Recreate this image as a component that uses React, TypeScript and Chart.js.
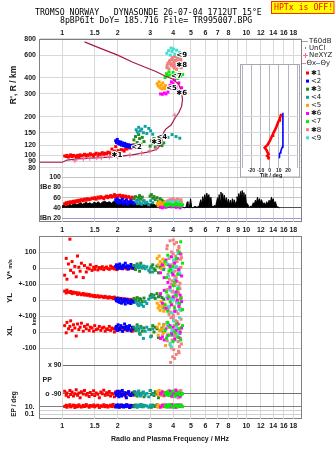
import { useEffect, useRef } from 'react';
import { Chart, registerables } from 'chart.js';

Chart.register(...registerables);

const PAGE_W = 335;
const PAGE_H = 451;

/* ---------- header ---------- */
const TITLE_1 = 'TROMSO NORWAY   DYNASONDE 26-07-04 1712UT 15°E';
const TITLE_2 = '8pBP6It DoY= 185.716 File= TR995007.BPG';
const TX_STATUS = 'HPTx is OFF!';

/* ---------- axis ticks ---------- */
const FREQ_GRID = [1, 1.5, 2, 3, 4, 5, 6, 7, 8, 9, 10, 12, 14, 16, 18];
const FREQ_LABELS = [1, 1.5, 2, 3, 4, 5, 6, 7, 8, 10, 12, 14, 16, 18];
const FREQ_LABELS_AMP = [1, 1.5, 2, 3, 4, 5, 6, 7, 8, 9, 10, 12, 14, 16, 18];
const HEIGHT_TICKS = [80, 90, 100, 120, 150, 200, 300, 400, 600, 800];
const AMP_TICKS = [100, 80, 60, 40, 20];
const AMP_LABELS = ['100', 'dBe 80', '60', '40', 'dBn 20'];
const DRIFT_TICKS = [100, 0, -100, -200, -300, -400, -500];
const DRIFT_LABELS = ['100', '0', '+-100', '0', '+-100', '0', '-100'];
const PP_TICKS = [90, -90];
const PP_LABELS = ['x 90', 'o -90'];
const EP_TICKS = [10, 1, 0.1];
const EP_LABELS = ['10.', '', '0.1'];
const TILT_TICKS = [-30, -20, -10, 0, 10, 20, 30];
const TILT_LABELS = ['', '-20', '-10', '0', '10', '20', ''];
const TILT_HEIGHT_TICKS = [100, 120, 150, 200];

/* ---------- legend / cluster tags ---------- */
const CLUSTER_TAGS = ['✱1', '<2', '✱3', '<4', '<5', '✱6', '<7', '✱8', '<9'];
const TAG_F = [1.9, 2.43, 3.12, 3.33, 3.76, 4.27, 4.0, 4.27, 4.27];
const TAG_H = [101, 116, 126, 139, 330, 306, 410, 500, 595];

/* ---------- real-height profile (MHz, km) ---------- */
const PROFILE: [number, number][] = [
  [0.75, 88.5], [1.0, 88.5], [1.06, 92], [1.2, 94], [1.6, 96], [2.0, 98], [2.4, 101],
  [2.9, 106], [3.25, 111], [3.42, 120], [3.5, 135], [3.55, 150], [3.65, 160], [3.9, 172],
  [4.1, 195], [4.3, 215], [4.45, 240], [4.5, 270], [4.45, 310], [4.3, 355], [4.0, 390],
  [3.6, 415], [3.2, 450], [2.8, 485], [2.4, 530], [2.0, 600], [1.6, 680], [1.32, 760],
];

/* ---------- NeXYZ points (MHz, km) ---------- */
const NEXYZ: [number, number][] = [
  [1.17, 91], [1.3, 94], [1.41, 95], [1.54, 96], [1.63, 96], [1.8, 97], [2.0, 98],
  [2.33, 100.5], [2.7, 104], [2.99, 108.5], [3.24, 114], [4.09, 205],
];

/* ---------- noise amplitude envelope (MHz, dB) ---------- */
const NOISE: [number, number][] = [
  [0.99, 40], [1.0, 44], [1.02, 46], [1.04, 43], [1.06, 47], [1.08, 45], [1.1, 48], [1.12, 44],
  [1.14, 47], [1.17, 49], [1.2, 46], [1.23, 48], [1.26, 50], [1.29, 47], [1.32, 49], [1.35, 51],
  [1.38, 48], [1.41, 50], [1.45, 47], [1.49, 51], [1.53, 49], [1.57, 52], [1.61, 48], [1.65, 51],
  [1.7, 53], [1.75, 50], [1.8, 52], [1.85, 49], [1.9, 53], [1.95, 51], [2.0, 48], [2.06, 52],
  [2.12, 49], [2.18, 51], [2.25, 47], [2.32, 50], [2.4, 48], [2.48, 46], [2.56, 49], [2.64, 45],
  [2.72, 48], [2.8, 46], [2.9, 50], [3.0, 47], [3.1, 49], [3.2, 45], [3.3, 47], [3.4, 44],
  [3.5, 46], [3.6, 43], [3.7, 45], [3.8, 42], [3.9, 44], [4.0, 42], [4.1, 45], [4.2, 42],
  [4.3, 44], [4.4, 41], [4.5, 42], [4.6, 40], [4.7, 41], [4.78, 52], [4.82, 41], [4.9, 40],
  [4.98, 58], [5.04, 42], [5.12, 40], [5.25, 43], [5.4, 41], [5.55, 44], [5.65, 56], [5.72, 48],
  [5.8, 62], [5.88, 52], [5.95, 66], [6.02, 55], [6.1, 69], [6.18, 58], [6.26, 66], [6.34, 50],
  [6.42, 61], [6.5, 44], [6.6, 41], [6.7, 45], [6.8, 42], [6.9, 52], [6.98, 60], [7.05, 50],
  [7.12, 66], [7.2, 55], [7.28, 71], [7.36, 58], [7.44, 68], [7.52, 54], [7.6, 65], [7.7, 52],
  [7.8, 60], [7.9, 48], [8.0, 57], [8.1, 46], [8.2, 55], [8.3, 44], [8.4, 58], [8.5, 47],
  [8.6, 56], [8.7, 45], [8.8, 52], [8.9, 62], [9.0, 55], [9.1, 68], [9.2, 58], [9.3, 72],
  [9.4, 61], [9.5, 74], [9.6, 63], [9.7, 70], [9.8, 56], [9.9, 66], [10.0, 50], [10.15, 48],
  [10.3, 43], [10.45, 41], [10.6, 44], [10.75, 42], [10.9, 50], [11.05, 46], [11.2, 55], [11.35, 49],
  [11.5, 61], [11.65, 52], [11.8, 58], [11.95, 50], [12.1, 56], [12.3, 47], [12.5, 50], [12.7, 45],
  [12.9, 52], [13.1, 47], [13.3, 55], [13.5, 50], [13.7, 61], [13.85, 53], [14.0, 58], [14.2, 49],
  [14.4, 52], [14.6, 44], [14.8, 42], [15.0, 41], [15.15, 40],
];

/* ---------- wave-vector tilt (deg, km) ---------- */
const THETA_X: [number, number][] = [
  [-1.9, 93], [-1, 96], [-2.8, 99], [-1.2, 102], [-2.5, 106], [-3.5, 110], [-5.5, 115],
  [-2.6, 120], [-1.2, 125], [0, 129], [0.8, 133], [1.7, 137], [2.6, 142], [3.6, 147],
  [4.8, 153], [6.1, 159], [7.2, 166], [8.3, 174], [9.2, 181], [10.2, 187], [11.1, 195],
  [12, 202], [12.7, 210],
];
const THETA_Y: [number, number][] = [
  [10.9, 96], [10.2, 99], [11.2, 102], [11.6, 105], [12.2, 108], [12.7, 111], [13.8, 116],
  [14.2, 122], [14.5, 129], [14.5, 150], [14.5, 180], [14.5, 214],
];

/* ---------- echo clusters: frequency (MHz), virtual range (km), amplitude (dB),
   V* (m/s), YL (km), XL (km), PP (deg), EP (deg) ---------- */
const F1 = [1.03, 1.05, 1.06, 1.08, 1.1, 1.11, 1.13, 1.15, 1.17, 1.19, 1.21, 1.23, 1.25, 1.27, 1.3, 1.32, 1.35, 1.37, 1.4, 1.42, 1.45, 1.48, 1.5, 1.53, 1.56, 1.59, 1.62, 1.65, 1.68, 1.71, 1.74, 1.77, 1.8, 1.83, 1.86, 1.89, 1.92, 1.95, 1.98, 2.01, 2.05, 2.09, 2.13, 2.17, 2.21, 2.25, 2.3, 2.35, 2.4, 2.45];
const H1 = [99, 98, 100, 97, 99, 101, 98, 100, 99, 97, 100, 98, 101, 99, 100, 102, 99, 101, 100, 103, 101, 99, 102, 104, 100, 103, 101, 105, 102, 104, 103, 106, 105, 103, 112, 104, 108, 117, 105, 109, 107, 111, 110, 108, 113, 112, 116, 114, 118, 121];
const A1 = [48, 50, 47, 51, 49, 52, 50, 53, 51, 54, 52, 55, 53, 56, 54, 57, 55, 58, 56, 57, 59, 58, 60, 57, 61, 59, 62, 60, 58, 61, 63, 60, 62, 64, 61, 63, 66, 62, 64, 63, 65, 62, 64, 61, 63, 60, 62, 59, 61, 58];
const V1 = [-45, 60, -70, 25, 180, -15, 40, -30, 10, -55, 75, 5, -20, 30, -60, 15, -25, 0, -5, 20, -15, 5, -8, 10, -12, 3, -5, 8, -10, 0, 6, -4, -8, 12, -2, 5, -6, 2, -10, 4, -3, 8, -5, 0, 6, -7, 3, -2, 5, -4];
const YL1 = [55, 44, 62, 50, 47, 53, 40, 49, 43, 46, 35, 44, 38, 33, 41, 31, 37, 29, 35, 25, 30, 22, 28, 20, 27, 18, 24, 21, 15, 23, 17, 12, 20, 14, 16, 9, 18, 11, 7, 13, 5, 10, 2, 8, -1, 6, -4, 4, -6, 0];
const XL1 = [40, -5, 60, 20, 35, 70, 10, 45, 25, -25, 50, 15, 30, 55, 5, 35, 20, 45, 10, 30, 25, 5, 40, 15, 20, 35, 10, 25, 30, 5, 20, 15, 35, 10, 25, 20, 0, 30, 15, 10, 25, 20, 5, 15, 30, 10, 20, 15, 5, 25];
const PP1 = [-75, -100, -85, -110, -70, -95, -80, -105, -90, -65, -100, -85, -115, -78, -92, -70, -98, -88, -108, -82, -95, -72, -102, -86, -94, -115, -80, -90, -68, -100, -84, -96, -76, -104, -88, -92, -110, -80, -98, -86, -74, -100, -90, -84, -106, -92, -78, -96, -88, -100];
const EP1 = [12, 25, 7, 18, 35, 9, 15, 28, 6, 20, 10, 32, 14, 8, 24, 11, 38, 16, 7, 22, 13, 30, 9, 17, 26, 6, 19, 12, 34, 10, 21, 8, 15, 27, 11, 40, 14, 9, 23, 16, 7, 29, 12, 18, 10, 33, 15, 8, 20, 13];

const F2 = [1.95, 1.97, 1.99, 2.01, 2.03, 2.05, 2.08, 2.1, 2.12, 2.15, 2.18, 2.2, 2.23, 2.26, 2.29, 2.32, 2.36, 2.4, 2.44, 2.48];
const H2 = [130, 126, 133, 124, 128, 122, 127, 120, 125, 119, 124, 118, 122, 117, 121, 116, 120, 118, 115, 119];
const A2 = [56, 52, 58, 50, 55, 49, 54, 51, 57, 48, 53, 50, 55, 47, 52, 49, 54, 51, 48, 50];
const V2 = [10, 20, -5, 15, 5, 25, 0, 12, -3, 18, 8, 30, 2, 14, -6, 10, 22, 4, -2, 12];
const YL2 = [5, -5, 10, -10, 0, -15, 8, -20, -2, -12, 4, -25, -8, 2, -18, -6, -22, -3, -14, -9];
const XL2 = [20, 35, 10, 45, 25, 15, 40, 30, 5, 28, 50, 18, 35, 12, 25, 40, 8, 30, 22, 15];
const PP2 = [-85, -100, -75, -95, -110, -80, -90, -105, -70, -92, -98, -84, -115, -88, -78, -96, -102, -86, -94, -80];
const EP2 = [9, 26, 14, 32, 7, 19, 12, 28, 16, 8, 22, 11, 35, 13, 18, 6, 24, 15, 10, 20];

const F3 = [2.45, 2.5, 2.55, 2.6, 2.63, 2.67, 2.72, 2.78, 3.0, 3.05, 3.1, 3.15, 3.2, 3.27, 3.33, 3.4, 3.48, 3.56];
const H3 = [132, 140, 126, 145, 135, 122, 138, 128, 118, 130, 124, 135, 116, 127, 121, 132, 119, 125];
const A3 = [58, 62, 55, 60, 64, 57, 61, 54, 63, 66, 59, 62, 56, 60, 53, 58, 55, 52];
const V3 = [15, -10, 25, 5, -20, 30, 0, 10, -25, 8, 20, -5, -15, 12, -30, 5, 18, -8];
const YL3 = [10, 0, 15, -5, 8, 5, -10, 12, 25, 35, 18, 30, 10, 40, 20, 28, 15, 5];
const XL3 = [30, 10, 45, 20, -10, 35, 5, 25, 15, -25, 40, 0, 30, 20, -35, 10, 25, 45];
const PP3 = [-80, -95, -105, -75, -90, -100, -85, -110, -70, -95, -88, -102, -78, -92, -115, -84, -98, -90];
const EP3 = [12, 30, 8, 20, 16, 38, 10, 24, 14, 7, 27, 18, 11, 33, 9, 21, 15, 13];

const F4 = [2.52, 2.56, 2.6, 2.65, 2.7, 2.76, 2.82, 2.88, 2.95, 3.02, 3.1, 3.55, 3.75, 3.95, 4.15, 4.35];
const H4 = [158, 152, 165, 155, 160, 150, 168, 148, 162, 155, 146, 142, 138, 145, 140, 136];
const A4 = [52, 48, 55, 50, 47, 53, 49, 51, 46, 54, 50, 48, 52, 47, 50, 46];
const V4 = [10, 18, 2, 15, 5, 12, -5, 8, -15, 0, -25, -10, 20, -30, 5, -40];
const YL4 = [-15, -25, -35, -20, -30, -40, -10, -22, 5, 15, 25, -50, -60, 10, -70, -20];
const XL4 = [20, 35, 10, -15, 25, -40, 5, 30, 15, -30, 20, 0, 40, -20, 10, -10];
const PP4 = [-85, -95, -75, -105, -90, -80, -100, -88, -110, -70, -95, -82, -98, -90, -104, -86];
const EP4 = [18, 8, 28, 12, 36, 10, 22, 15, 7, 26, 13, 31, 9, 19, 24, 11];

const F5 = [3.28, 3.32, 3.36, 3.4, 3.44, 3.48, 3.52, 3.56, 3.6, 3.64];
const H5 = [360, 345, 372, 335, 352, 328, 365, 340, 330, 348];
const A5 = [48, 44, 52, 46, 50, 43, 47, 45, 51, 44];
const V5 = [60, 20, 75, 40, -5, 30, 55, 10, 45, 25];
const YL5 = [-20, -50, -35, -65, -10, -45, -30, -70, -25, -55];
const XL5 = [30, -20, 50, 10, -40, 20, -10, 40, 0, -85];
const PP5 = [-80, -95, -70, -100, -88, -75, -92, -105, -85, -98];
const EP5 = [10, 28, 14, 7, 22, 16, 34, 9, 19, 12];

const F6 = [3.42, 3.5, 3.58, 3.66, 3.75, 3.85, 3.92, 4.0, 4.08, 4.15, 4.22, 4.3, 4.37, 4.45];
const H6 = [300, 298, 305, 300, 310, 350, 372, 360, 385, 340, 320, 365, 305, 335];
const A6 = [41, 40, 42, 41, 43, 44, 42, 45, 43, 41, 44, 42, 40, 43];
const V6 = [-30, 20, -60, 50, -90, 10, 70, -40, 30, -80, 60, -10, 90, -50];
const YL6 = [40, -20, 60, -50, 10, 80, -30, 20, -70, 50, 0, -40, 30, -10];
const XL6 = [-40, -30, -50, 20, -20, 40, -10, 30, -45, 10, 50, -35, 0, 25];
const PP6 = [-90, -80, -100, -85, -95, -75, -105, -88, -92, -70, -98, -84, -110, -90];
const EP6 = [8, 24, 12, 30, 16, 10, 38, 14, 20, 7, 26, 11, 18, 15];

const F7 = [3.62, 3.68, 3.74, 3.8, 3.86, 4.0, 4.08, 4.16, 4.24, 4.32, 4.4, 4.5];
const H7 = [402, 430, 415, 445, 420, 440, 405, 428, 395, 435, 412, 425];
const A7 = [46, 44, 48, 45, 47, 44, 46, 49, 45, 47, 44, 46];
const V7 = [40, -60, 80, -20, -10, 10, -90, 60, -40, 100, 164, 30];
const YL7 = [-30, 50, -70, 20, -10, 90, -50, 30, 70, -20, 10, -60];
const XL7 = [10, -40, 60, -20, 30, -60, 0, 50, -30, 20, -50, 40];
const PP7 = [-85, -95, -80, -100, -90, -75, -105, -88, -92, -82, -98, -90];
const EP7 = [14, 9, 27, 12, 33, 8, 19, 23, 11, 16, 29, 10];

const F8 = [3.7, 3.75, 3.8, 3.85, 3.9, 3.95, 4.0, 4.03, 4.06, 4.1, 4.13, 4.16, 4.2, 4.23, 4.26, 4.3, 4.33, 4.36, 4.39, 4.42, 3.88, 4.08, 4.18, 4.28, 3.72, 3.82, 3.92, 4.01, 4.11, 4.21, 4.31, 4.41, 4.44, 3.98];
const H8 = [480, 520, 470, 545, 500, 560, 490, 530, 475, 585, 510, 550, 495, 570, 485, 540, 505, 525, 560, 478, 515, 545, 465, 590, 500, 535, 555, 505, 495, 530, 515, 550, 485, 575];
const A8 = [50, 54, 47, 56, 52, 48, 58, 51, 46, 55, 49, 53, 47, 57, 50, 45, 54, 48, 52, 46, 55, 51, 49, 53, 52, 48, 55, 50, 47, 53, 49, 56, 51, 47];
const V8 = [120, -40, 60, 170, 10, -80, 90, 30, 150, -20, 75, -60, 40, 110, -10, 135, 0, -95, 55, 85, 20, -50, 160, -30, 140, -70, 100, 175, 45, -85, 125, 5, 65, -45];
const YL8 = [-60, 30, -90, 80, -20, 50, -100, 10, -40, 95, -70, 20, -5, 60, -85, 40, -30, 70, -55, 5, -75, 90, -15, 45, 65, -45, 100, -95, 35, -10, 85, -65, 15, 55];
const XL8 = [60, -20, 30, -80, 90, -50, 10, -110, 40, -30, 70, -140, -10, 20, -60, 50, -90, 0, -40, 80, -190, -165, 15, -120, -55, 40, -100, 85, -15, 65, -130, 25, -75, -155];
const PP8 = [-80, -95, -70, -100, -85, -110, -90, -75, -105, -88, -65, -98, -92, -78, -115, -84, -96, -72, -102, -86, -94, -82, -108, -90, -88, -100, -76, -94, -110, -82, -98, -70, -92, -104];
const EP8 = [12, 28, 8, 20, 15, 35, 10, 24, 7, 18, 30, 13, 22, 9, 26, 16, 11, 38, 14, 19, 8, 25, 12, 31, 8, 30, 14, 22, 6, 18, 36, 11, 26, 9];

const F9 = [3.7, 3.78, 3.86, 3.94, 4.02, 4.1, 4.18, 4.26, 4.34, 3.9];
const H9 = [620, 650, 600, 640, 670, 610, 655, 590, 630, 680];
const A9 = [50, 47, 52, 48, 51, 46, 49, 53, 47, 50];
const V9 = [30, -50, 70, -10, 50, -70, 10, 90, -30, 0];
const YL9 = [20, -40, 60, -80, 0, 40, -20, 80, -60, 10];
const XL9 = [-30, 50, -70, 10, 70, -50, 30, -10, 90, -90];
const PP9 = [-90, -80, -100, -85, -95, -75, -105, -88, -92, -98];
const EP9 = [15, 9, 28, 12, 22, 7, 33, 17, 11, 20];

const CLUSTERS = [
  { f: F1, h: H1, amp: A1, v: V1, yl: YL1, xl: XL1, pp: PP1, ep: EP1 },
  { f: F2, h: H2, amp: A2, v: V2, yl: YL2, xl: XL2, pp: PP2, ep: EP2 },
  { f: F3, h: H3, amp: A3, v: V3, yl: YL3, xl: XL3, pp: PP3, ep: EP3 },
  { f: F4, h: H4, amp: A4, v: V4, yl: YL4, xl: XL4, pp: PP4, ep: EP4 },
  { f: F5, h: H5, amp: A5, v: V5, yl: YL5, xl: XL5, pp: PP5, ep: EP5 },
  { f: F6, h: H6, amp: A6, v: V6, yl: YL6, xl: XL6, pp: PP6, ep: EP6 },
  { f: F7, h: H7, amp: A7, v: V7, yl: YL7, xl: XL7, pp: PP7, ep: EP7 },
  { f: F8, h: H8, amp: A8, v: V8, yl: YL8, xl: XL8, pp: PP8, ep: EP8 },
  { f: F9, h: H9, amp: A9, v: V9, yl: YL9, xl: XL9, pp: PP9, ep: EP9 },
];

/* ---------- styles ---------- */
const CLUSTER_COLORS = ['#ff0000', '#0000ff', '#228b22', '#10a0a0', '#ffa500', '#ff00ff', '#00ee00', '#f08080', '#40e0d0'];
const STACK_ORDER = [0, 1, 2, 3, 4, 7, 8, 5, 6];
const GRID = '#d8d8d8';
const FRAME = '#808080';
const TICK_COLOR = '#1a1a1a';
const PROFILE_COLOR = '#a8184c';
const NEXYZ_COLOR = '#e8709a';
const TICK_FONT = { family: '"Liberation Sans", Arial, sans-serif', size: 7, weight: 'bold' as const };
const SANS = '"Liberation Sans", Arial, sans-serif';

/* ---------- layout: plot boxes in page pixels ---------- */
type Box = { left: number; right: number; top: number; bottom: number };
const T_BOX: Box = { left: 40, right: 301, top: 39, bottom: 171 };
const A_BOX: Box = { left: 62, right: 301, top: 171, bottom: 222 };
const L_BOX: Box = { left: 40, right: 301, top: 237, bottom: 419 };
const P_BOX: Box = { left: 62.5, right: 301, top: 357, bottom: 400 };
const E_BOX: Box = { left: 40, right: 301, top: 400, bottom: 419 };
const I_BOX: Box = { left: 242, right: 298, top: 65, bottom: 168 };

/* axis calibrations: value at a given pixel edge */
const fAt = (px: number) => Math.pow(10, (px - 62.3) / 184);
const hAt = (py: number) => Math.pow(10, 2 + (155.4 - py) / 128.9);
const dbAt = (py: number) => 100 + (177.3 - py) / 0.509;
const driftAt = (py: number, zeroY: number) => (zeroY - py) / 0.16;
const ppAt = (py: number) => 90 - ((py - 365) * 180) / 28.7;
const epAt = (py: number) => Math.pow(10, 1 + (406.7 - py) / 3.65);
const tiltAt = (px: number) => (px - 269.7) / 0.915;

function padFor(box: Box, yWidth: number, xSide: 'top' | 'bottom', xHeight: number) {
  return {
    left: box.left - yWidth,
    right: PAGE_W - box.right,
    top: box.top - (xSide === 'top' ? xHeight : 0),
    bottom: PAGE_H - box.bottom - (xSide === 'bottom' ? xHeight : 0),
  };
}

function freqAxis(box: Box, side: 'top' | 'bottom', height: number, labels: number[] | null, pad: number, showGrid = true) {
  return {
    type: 'logarithmic',
    position: side,
    min: fAt(box.left),
    max: fAt(box.right),
    afterBuildTicks: (s: any) => { s.ticks = FREQ_GRID.map((v) => ({ value: v })); },
    afterFit: (s: any) => { s.height = height; },
    grid: { display: showGrid, color: GRID, drawTicks: false },
    border: { display: false },
    ticks: {
      display: !!labels,
      autoSkip: false,
      maxRotation: 0,
      minRotation: 0,
      padding: pad,
      color: TICK_COLOR,
      font: TICK_FONT,
      callback: (v: number) => (labels && labels.includes(v) ? String(v) : ''),
    },
  };
}

function valueAxis(o: {
  type: string; min: number; max: number; ticks: number[]; labels: string[] | null;
  width: number; pad: number; grid: any;
}) {
  return {
    type: o.type,
    position: 'left',
    min: o.min,
    max: o.max,
    afterBuildTicks: (s: any) => { s.ticks = o.ticks.map((v) => ({ value: v })); },
    afterFit: (s: any) => { s.width = o.width; },
    grid: { color: o.grid, drawTicks: false },
    border: { display: false },
    ticks: {
      display: !!o.labels,
      autoSkip: false,
      padding: o.pad,
      color: TICK_COLOR,
      font: TICK_FONT,
      callback: (v: number) => {
        const i = o.ticks.indexOf(v);
        return o.labels && i >= 0 ? o.labels[i] : '';
      },
    },
  };
}

const hiddenY = (min: number, max: number) => ({ type: 'linear', axis: 'y', position: 'left', display: false, min, max });

function pts(xs: number[], ys: number[]) {
  return xs.map((x, i) => ({ x, y: ys[i] }));
}
function pairPts(list: [number, number][]) {
  return list.map(([x, y]) => ({ x, y }));
}
function squares(data: { x: number; y: number }[], color: string, yAxisID = 'y') {
  return {
    data, yAxisID, showLine: false, pointStyle: 'rect', pointRadius: 2.1, pointBorderWidth: 0,
    pointBackgroundColor: color, backgroundColor: color, borderColor: color,
  };
}
// first entry is painted first, last entry ends up on top
function layered(sets: any[]) {
  return sets.map((d, i) => ({ ...d, order: sets.length - i }));
}

function build(canvas: HTMLCanvasElement, box: Box, scales: any, datasets: any[], yWidth: number,
  xSide: 'top' | 'bottom', xHeight: number, plugins: any[] = []) {
  return new Chart(canvas, {
    type: 'line',
    data: { datasets: layered(datasets) },
    options: {
      responsive: false,
      animation: false,
      events: [],
      layout: { padding: padFor(box, yWidth, xSide, xHeight), autoPadding: false },
      plugins: { legend: { display: false }, tooltip: { enabled: false } },
      scales,
    } as any,
    plugins,
  } as any);
}

function vText(ctx: CanvasRenderingContext2D, text: string, x: number, y: number, font: string) {
  ctx.save();
  ctx.translate(x, y);
  ctx.rotate(-Math.PI / 2);
  ctx.font = font;
  ctx.fillStyle = '#222';
  ctx.textAlign = 'center';
  ctx.textBaseline = 'middle';
  ctx.fillText(text, 0, 0);
  ctx.restore();
}

/* header, legend, panel frames, axis titles and cluster tags */
const decor = {
  id: 'decor',
  afterDraw(chart: any) {
    const ctx: CanvasRenderingContext2D = chart.ctx;
    const xs = chart.scales.x;
    const ys = chart.scales.y;
    ctx.save();

    ctx.strokeStyle = FRAME;
    ctx.lineWidth = 1;
    ctx.strokeRect(39.5, 39.5, 262, 182);
    ctx.strokeRect(39.5, 236.5, 262, 182);

    ctx.textBaseline = 'middle';
    ctx.textAlign = 'left';
    ctx.fillStyle = '#000';
    ctx.font = '8.2px "DejaVu Sans Mono", monospace';
    ctx.fillText(TITLE_1, 35, 12.5);
    ctx.fillText(TITLE_2, 60, 20.8);

    ctx.fillStyle = '#ffff00';
    ctx.fillRect(271.5, 1.5, 62.5, 12);
    ctx.strokeStyle = '#ff3000';
    ctx.strokeRect(271.5, 1.5, 62.5, 12);
    ctx.fillStyle = '#ff0000';
    ctx.fillText(TX_STATUS, 274, 7.8);

    // legend
    ctx.font = '7px "DejaVu Sans", sans-serif';
    ctx.fillStyle = '#222';
    ctx.strokeStyle = '#a0a0a0';
    ctx.beginPath(); ctx.moveTo(302, 41.5); ctx.lineTo(308, 41.5); ctx.stroke();
    ctx.fillText('T60dB', 309, 41.5);
    ctx.fillStyle = '#000';
    ctx.fillRect(305, 47.5, 1, 1);
    ctx.fillStyle = '#222';
    ctx.fillText('UnCl', 309, 48);
    ctx.strokeStyle = NEXYZ_COLOR;
    ctx.beginPath();
    ctx.moveTo(303, 55.5); ctx.lineTo(308, 55.5);
    ctx.moveTo(305.5, 53); ctx.lineTo(305.5, 58);
    ctx.stroke();
    ctx.fillText('NeXYZ', 309, 55.5);
    ctx.strokeStyle = '#f08080';
    ctx.beginPath(); ctx.moveTo(302, 63.5); ctx.lineTo(306, 63.5); ctx.stroke();
    ctx.fillText('Θx', 306.5, 63.5);
    ctx.strokeStyle = '#8080ff';
    ctx.beginPath(); ctx.moveTo(316, 63.5); ctx.lineTo(320, 63.5); ctx.stroke();
    ctx.fillText('Θy', 320.5, 63.5);
    CLUSTER_TAGS.forEach((tag, i) => {
      const y = 73 + 8.1 * i;
      ctx.fillStyle = CLUSTER_COLORS[i];
      ctx.fillRect(306, y - 1.5, 3, 3);
      ctx.fillStyle = '#111';
      ctx.fillText(tag, 311, y);
    });

    // axis titles
    vText(ctx, "R', R / km", 13.5, 85, `bold 8.5px ${SANS}`);
    vText(ctx, 'V*', 10, 275, `bold 8px ${SANS}`);
    vText(ctx, 'm/s', 10, 264, `bold 5.5px ${SANS}`);
    vText(ctx, 'YL', 10, 298, `bold 8px ${SANS}`);
    vText(ctx, 'km', 34, 321.5, `bold 5.5px ${SANS}`);
    vText(ctx, 'XL', 10, 331, `bold 8px ${SANS}`);
    vText(ctx, 'EP / deg', 14, 404, `bold 6.5px ${SANS}`);
    ctx.fillStyle = '#222';
    ctx.font = `bold 7px ${SANS}`;
    ctx.textAlign = 'left';
    ctx.fillText('PP', 42.5, 380);
    ctx.textAlign = 'center';
    ctx.font = `bold 7px ${SANS}`;
    ctx.fillText('Radio and Plasma Frequency / MHz', 170, 439);

    // cluster tags inside the ionogram
    ctx.font = 'bold 7px "DejaVu Sans", sans-serif';
    ctx.textAlign = 'left';
    ctx.lineJoin = 'round';
    TAG_F.forEach((f, i) => {
      const px = xs.getPixelForValue(f) - 2;
      const py = ys.getPixelForValue(TAG_H[i]);
      ctx.lineWidth = 2;
      ctx.strokeStyle = '#fff';
      ctx.strokeText(CLUSTER_TAGS[i], px, py);
      ctx.fillStyle = '#000';
      ctx.fillText(CLUSTER_TAGS[i], px, py);
    });
    ctx.restore();
  },
};

/* white card behind the tilt inset */
const insetCard = {
  id: 'insetCard',
  beforeDraw(chart: any) {
    const ctx: CanvasRenderingContext2D = chart.ctx;
    ctx.save();
    ctx.fillStyle = '#fff';
    ctx.fillRect(240.5, 64.5, 59, 112.5);
    ctx.strokeStyle = '#a8a8b4';
    ctx.lineWidth = 1;
    ctx.strokeRect(240.5, 64.5, 59, 112.5);
    ctx.restore();
  },
  afterDraw(chart: any) {
    const ctx: CanvasRenderingContext2D = chart.ctx;
    ctx.save();
    ctx.fillStyle = '#222';
    ctx.font = `bold 5.5px ${SANS}`;
    ctx.textAlign = 'center';
    ctx.textBaseline = 'middle';
    ctx.fillText('Tilt / deg', 271, 175);
    ctx.restore();
  },
};

export default function App() {
  const r0 = useRef<HTMLCanvasElement>(null);
  const r1 = useRef<HTMLCanvasElement>(null);
  const r2 = useRef<HTMLCanvasElement>(null);
  const r3 = useRef<HTMLCanvasElement>(null);
  const r4 = useRef<HTMLCanvasElement>(null);
  const r5 = useRef<HTMLCanvasElement>(null);
  const refs = [r0, r1, r2, r3, r4, r5];

  useEffect(() => {
    const [cT, cA, cL, cP, cE, cI] = refs.map((r) => r.current as HTMLCanvasElement);

    // ionogram: virtual range vs frequency
    const ionogram = build(cT, T_BOX, {
      x: freqAxis(T_BOX, 'top', 39, FREQ_LABELS, 1.5),
      y: valueAxis({ type: 'logarithmic', min: hAt(T_BOX.bottom), max: hAt(T_BOX.top), ticks: HEIGHT_TICKS, labels: HEIGHT_TICKS.map(String), width: 40, pad: 4, grid: GRID }),
    }, [
      ...CLUSTERS.map((c, i) => squares(pts(c.f, c.h), CLUSTER_COLORS[i])),
      { data: pairPts(PROFILE), showLine: true, borderColor: PROFILE_COLOR, borderWidth: 1.2, pointRadius: 0, fill: false, tension: 0 },
      { data: pairPts(NEXYZ), showLine: false, pointStyle: 'cross', pointRadius: 2.5, pointBorderColor: NEXYZ_COLOR, pointBorderWidth: 1 },
    ], 40, 'top', 39, [decor]);

    // echo amplitude
    const ampGrid = (ctx: any) => {
      const v = ctx.tick && ctx.tick.value;
      if (v === 40) return '#505050';
      if (v === 20) return '#9a9ad8';
      return '#c4c4c4';
    };
    const amplitude = build(cA, A_BOX, {
      x: freqAxis(A_BOX, 'bottom', 20, FREQ_LABELS_AMP, 4.1),
      y: valueAxis({ type: 'linear', min: dbAt(A_BOX.bottom), max: dbAt(A_BOX.top), ticks: AMP_TICKS, labels: AMP_LABELS, width: 22, pad: 1, grid: ampGrid }),
    }, [
      { data: pairPts(NOISE), showLine: true, borderColor: '#000', borderWidth: 1, backgroundColor: '#000', fill: { value: 40 }, pointRadius: 0, tension: 0 },
      ...STACK_ORDER.map((i) => squares(pts(CLUSTERS[i].f, CLUSTERS[i].amp), CLUSTER_COLORS[i])),
    ], 22, 'bottom', 20);

    // drift velocity and echo location
    const drift = build(cL, L_BOX, {
      x: freqAxis(L_BOX, 'bottom', 20, FREQ_LABELS, 2.8),
      y: valueAxis({ type: 'linear', min: driftAt(L_BOX.bottom, 268), max: driftAt(L_BOX.top, 268), ticks: DRIFT_TICKS, labels: DRIFT_LABELS, width: 40, pad: 3.5, grid: '#d0d0d0' }),
      yY: hiddenY(driftAt(L_BOX.bottom, 300), driftAt(L_BOX.top, 300)),
      yX: hiddenY(driftAt(L_BOX.bottom, 332), driftAt(L_BOX.top, 332)),
    }, [
      ...STACK_ORDER.map((i) => squares(pts(CLUSTERS[i].f, CLUSTERS[i].v), CLUSTER_COLORS[i], 'y')),
      ...STACK_ORDER.map((i) => squares(pts(CLUSTERS[i].f, CLUSTERS[i].yl), CLUSTER_COLORS[i], 'yY')),
      ...STACK_ORDER.map((i) => squares(pts(CLUSTERS[i].f, CLUSTERS[i].xl), CLUSTER_COLORS[i], 'yX')),
    ], 40, 'bottom', 20);

    // polarization
    const polar = build(cP, P_BOX, {
      x: freqAxis(P_BOX, 'bottom', 0, null, 0, false),
      y: valueAxis({ type: 'linear', min: ppAt(P_BOX.bottom), max: ppAt(P_BOX.top), ticks: PP_TICKS, labels: PP_LABELS, width: 22.5, pad: 1, grid: '#707070' }),
    }, STACK_ORDER.map((i) => squares(pts(CLUSTERS[i].f, CLUSTERS[i].pp), CLUSTER_COLORS[i])), 22.5, 'bottom', 0);

    // phase error
    const epGrid = (ctx: any) => (ctx.tick && ctx.tick.value === 10 ? '#808080' : '#d0d0d0');
    const phase = build(cE, E_BOX, {
      x: freqAxis(E_BOX, 'bottom', 0, null, 0, false),
      y: valueAxis({ type: 'logarithmic', min: epAt(E_BOX.bottom), max: epAt(E_BOX.top), ticks: EP_TICKS, labels: EP_LABELS, width: 40, pad: 5.5, grid: epGrid }),
    }, STACK_ORDER.map((i) => squares(pts(CLUSTERS[i].f, CLUSTERS[i].ep), CLUSTER_COLORS[i])), 40, 'bottom', 0);

    // tilt inset
    const tilt = build(cI, I_BOX, {
      x: {
        type: 'linear', position: 'bottom', min: tiltAt(I_BOX.left), max: tiltAt(I_BOX.right),
        afterBuildTicks: (s: any) => { s.ticks = TILT_TICKS.map((v) => ({ value: v })); },
        afterFit: (s: any) => { s.height = 9; },
        grid: { color: '#b4b4c4', drawTicks: false },
        border: { display: false },
        ticks: {
          autoSkip: false, maxRotation: 0, padding: 0, color: TICK_COLOR,
          font: { family: SANS, size: 5, weight: 'bold' },
          callback: (v: number) => { const i = TILT_TICKS.indexOf(v); return i >= 0 ? TILT_LABELS[i] : ''; },
        },
      },
      y: valueAxis({ type: 'logarithmic', min: hAt(I_BOX.bottom), max: hAt(I_BOX.top), ticks: TILT_HEIGHT_TICKS, labels: null, width: 0, pad: 0, grid: '#d4d4d4' }),
    }, [
      { data: pairPts(THETA_Y), showLine: true, borderColor: '#0000ff', borderWidth: 1.6, pointRadius: 0, fill: false, tension: 0 },
      { data: pairPts(THETA_X), showLine: true, borderColor: '#ff0000', borderWidth: 2.6, pointRadius: 0, fill: false, tension: 0 },
    ], 0, 'bottom', 9, [insetCard]);

    const charts = [ionogram, amplitude, drift, polar, phase, tilt];
    return () => charts.forEach((c) => c.destroy());
  }, []);

  return (
    <div style={{ position: 'absolute', left: 0, top: 0, width: PAGE_W, height: PAGE_H, background: '#fff', overflow: 'hidden' }}>
      {refs.map((r, i) => (
        <canvas key={i} ref={r} width={PAGE_W} height={PAGE_H} style={{ position: 'absolute', left: 0, top: 0 }} />
      ))}
    </div>
  );
}
